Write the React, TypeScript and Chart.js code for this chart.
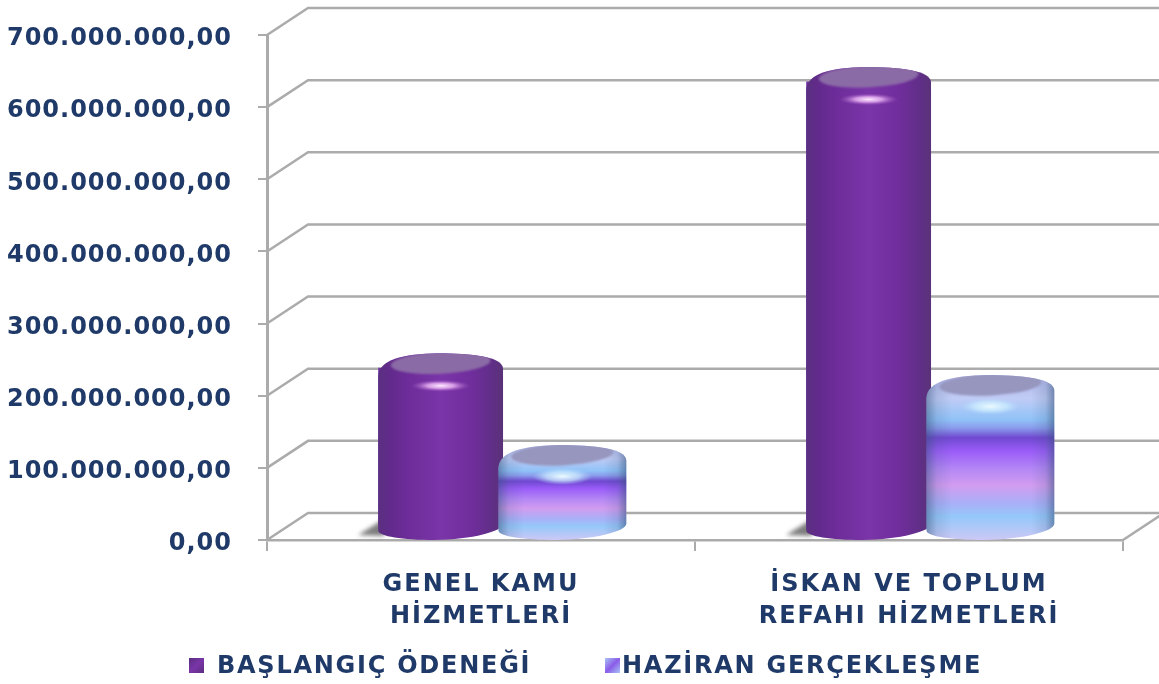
import React, { useEffect, useRef } from "react";
import { Chart, registerables } from "chart.js";

Chart.register(...registerables);

const categories = [["GENEL KAMU", "HİZMETLERİ"], ["İSKAN VE TOPLUM", "REFAHI HİZMETLERİ"]];
const seriesNames = ["BAŞLANGIÇ ÖDENEĞİ", "HAZİRAN GERÇEKLEŞME"];
const baslangic = [220000000, 617000000];
const haziran = [93000000, 190000000];
const yMax = 700000000;
const yStep = 100000000;

const TEXT = "#1F3A68";
const GRID = "#ABABAB";
const DX = 41;
const DY = 27;
const RY = 14;

const BLUE_STOPS: [number, string][] = [
  [0, "#B0B4E8"], [0.14, "#C0CCF5"], [0.27, "#90C2F8"], [0.32, "#8A9CEC"], [0.38, "#7048D0"], [0.46, "#9A5CF8"],
  [0.57, "#B487F5"], [0.67, "#D29CF0"], [0.78, "#A9B0F8"], [0.86, "#95C8FA"], [1, "#CBC8F5"],
];

function fmt(v: number) {
  const s = Math.round(v).toString().replace(/\B(?=(\d{3})+(?!\d))/g, ".");
  return s + ",00";
}

function outline(ctx: CanvasRenderingContext2D, cx: number, rx: number, yt: number, yb: number) {
  ctx.beginPath();
  ctx.moveTo(cx - rx, yt + 9);
  ctx.bezierCurveTo(cx - rx, yt - 8, cx - rx * 0.6, yt - RY, cx - rx * 0.05, yt - RY - 0.5);
  ctx.bezierCurveTo(cx + rx * 0.5, yt - RY - 0.5, cx + rx, yt - 11, cx + rx, yt + 1);
  ctx.lineTo(cx + rx, yb - 2);
  ctx.bezierCurveTo(cx + rx, yb + 6, cx + rx * 0.5, yb + RY, cx - rx * 0.1, yb + RY + 0.5);
  ctx.bezierCurveTo(cx - rx * 0.6, yb + RY + 0.5, cx - rx, yb + 11, cx - rx, yb + 5);
  ctx.closePath();
}

function cylinder(ctx: CanvasRenderingContext2D, bar: any, kind: number) {
  const rx = bar.width / 2 + (kind === 1 ? 1.5 : 0);
  const cx = bar.x + DX / 2;
  const yt = bar.y - DY / 2;
  const yb = bar.base - DY / 2;
  const w = rx * 2;
  ctx.save();
  outline(ctx, cx, rx, yt, yb);
  ctx.clip();
  if (kind === 0) {
    const g = ctx.createLinearGradient(cx - rx, 0, cx + rx, 0);
    g.addColorStop(0, "#5A3080");
    g.addColorStop(0.1, "#622A8C");
    g.addColorStop(0.22, "#6C2C98");
    g.addColorStop(0.5, "#7A35A8");
    g.addColorStop(0.75, "#702D9C");
    g.addColorStop(0.92, "#5F2F86");
    g.addColorStop(1, "#5A3278");
    ctx.fillStyle = g;
    ctx.fillRect(cx - rx - 4, yt - RY - 6, w + 8, yb - yt + 2 * RY + 12);
  } else {
    const top = yt - RY;
    const bot = yb + RY;
    const v = ctx.createLinearGradient(0, top, 0, bot);
    BLUE_STOPS.forEach(([p, c]) => v.addColorStop(p, c));
    ctx.fillStyle = v;
    ctx.fillRect(cx - rx - 4, top - 6, w + 8, bot - top + 12);
    const h = ctx.createLinearGradient(cx - rx, 0, cx + rx, 0);
    h.addColorStop(0, "rgba(50,80,120,0.5)");
    h.addColorStop(0.08, "rgba(50,80,120,0.14)");
    h.addColorStop(0.2, "rgba(50,80,120,0)");
    h.addColorStop(0.82, "rgba(50,80,120,0)");
    h.addColorStop(0.93, "rgba(50,80,120,0.15)");
    h.addColorStop(1, "rgba(50,80,120,0.55)");
    ctx.fillStyle = h;
    ctx.fillRect(cx - rx - 4, top - 6, w + 8, bot - top + 12);
  }
  // top face
  ctx.save();
  ctx.filter = "blur(1px)";
  ctx.fillStyle = kind === 0 ? "#8B6BA6" : "#9696BE";
  ctx.beginPath();
  ctx.ellipse(cx, yt - 5, rx * 0.8, 11, -0.05, 0, 2 * Math.PI);
  ctx.fill();
  ctx.restore();
  // highlight under the rim
  const hy = yt + (kind === 0 ? 18 : 17);
  ctx.save();
  ctx.translate(cx, hy);
  ctx.scale(1, kind === 0 ? 0.2 : 0.28);
  const r = ctx.createRadialGradient(0, 0, 0, 0, 0, 30);
  if (kind === 0) {
    r.addColorStop(0, "rgba(255,235,255,1)");
    r.addColorStop(0.45, "rgba(235,180,245,0.8)");
    r.addColorStop(1, "rgba(160,80,190,0)");
  } else {
    r.addColorStop(0, "rgba(235,250,255,1)");
    r.addColorStop(0.55, "rgba(205,238,255,0.7)");
    r.addColorStop(1, "rgba(180,220,255,0)");
  }
  ctx.fillStyle = r;
  ctx.beginPath();
  ctx.arc(0, 0, 30, 0, 2 * Math.PI);
  ctx.fill();
  ctx.restore();
  ctx.restore();
}

function spaced(chart: any, scale: any, px: string, dy: number) {
  if (scale.__spaced) return;
  scale.__spaced = true;
  const draw = scale.drawLabels;
  scale.drawLabels = function (area: any) {
    chart.ctx.save();
    chart.ctx.letterSpacing = px;
    chart.ctx.translate(0, dy);
    draw.call(this, area);
    chart.ctx.restore();
  };
}

const walls = {
  id: "walls",
  beforeDraw(chart: any) {
    spaced(chart, chart.scales.y, "1px", 4);
    spaced(chart, chart.scales.x, "2px", 0);
  },
  beforeDatasetsDraw(chart: any) {
    const { ctx, chartArea, scales } = chart;
    const { left, right, bottom } = chartArea;
    ctx.save();
    ctx.strokeStyle = GRID;
    ctx.lineWidth = 2.5;
    scales.y.ticks.forEach((_: any, i: number) => {
      const y = scales.y.getPixelForTick(i);
      ctx.beginPath();
      ctx.moveTo(left, y);
      ctx.lineTo(left + DX, y - DY);
      ctx.lineTo(chart.width + 2, y - DY);
      ctx.stroke();
    });
    ctx.beginPath();
    ctx.moveTo(right, bottom);
    ctx.lineTo(right + DX, bottom - DY);
    ctx.stroke();
    ctx.restore();
    // the library's flat bars sit in the middle of the floor's depth
    ctx.save();
    ctx.translate(DX / 2, -DY / 2);
  },
  afterDatasetsDraw(chart: any) {
    const { ctx } = chart;
    ctx.restore();
    // soft shadows on the floor
    chart.getDatasetMeta(0).data.forEach((bar: any) => {
      const x0 = bar.x + DX / 2 - bar.width / 2;
      const b = bar.base;
      ctx.save();
      ctx.filter = "blur(2px)";
      ctx.fillStyle = "rgba(70,70,70,0.7)";
      ctx.beginPath();
      ctx.moveTo(x0 - 20, b - 4);
      ctx.lineTo(x0 + 6, b - 20);
      ctx.lineTo(x0 + 6, b - 3);
      ctx.closePath();
      ctx.fill();
      ctx.restore();
    });
    [0, 1].forEach((d) => {
      chart.getDatasetMeta(d).data.forEach((bar: any) => cylinder(ctx, bar, d));
    });
  },
  afterDraw(chart: any) {
    const { ctx } = chart;
    const xs = [[189, 217], [605, 622]];
    ctx.save();
    ctx.font = "bold 24px 'DejaVu Sans'";
    ctx.letterSpacing = "1.75px";
    ctx.textBaseline = "middle";
    ctx.textAlign = "left";
    seriesNames.forEach((name, i) => {
      const [bx, tx] = xs[i];
      const g = ctx.createLinearGradient(bx, 658, bx + 15, 673);
      if (i === 0) {
        g.addColorStop(0, "#5A2F80");
        g.addColorStop(0.5, "#7A35A8");
        g.addColorStop(1, "#5A2F80");
      } else {
        g.addColorStop(0, "#A9C4F5");
        g.addColorStop(0.5, "#8A5CE8");
        g.addColorStop(1, "#A9C4F5");
      }
      ctx.fillStyle = g;
      ctx.fillRect(bx, 658, 15, 15);
      ctx.fillStyle = TEXT;
      ctx.fillText(name, tx, 667);
    });
    ctx.restore();
  },
};

export default function App() {
  const ref = useRef<HTMLCanvasElement>(null);
  useEffect(() => {
    const chart = new Chart(ref.current!, {
      type: "bar",
      data: {
        labels: categories as any,
        datasets: [
          { label: seriesNames[0], data: baslangic, backgroundColor: "#7030A0" },
          { label: seriesNames[1], data: haziran, backgroundColor: "#9A6CF0" },
        ],
      },
      options: {
        responsive: false,
        animation: false,
        layout: { autoPadding: false, padding: { top: 35, right: 36, left: 0, bottom: 0 } },
        plugins: { legend: { display: false }, tooltip: { enabled: false } },
        datasets: { bar: { categoryPercentage: 0.569, barPercentage: 1.025 } },
        scales: {
          x: {
            afterFit(s: any) { s.height = 144; },
            border: { color: GRID, width: 2.5 },
            grid: { color: GRID, lineWidth: 2, drawOnChartArea: false, tickLength: 11 },
            ticks: {
              color: TEXT,
              padding: 17,
              maxRotation: 0,
              autoSkip: false,
              font: { family: "'DejaVu Sans'", weight: "bold", size: 24, lineHeight: 1.36 },
            },
          },
          y: {
            min: 0,
            max: yMax,
            afterFit(s: any) { s.width = 267; s.paddingTop = 0; s.paddingBottom = 0; },
            border: { color: GRID, width: 3 },
            grid: { color: GRID, lineWidth: 2, drawOnChartArea: false, tickLength: 9 },
            ticks: {
              stepSize: yStep,
              color: TEXT,
              padding: 26,
              font: { family: "'DejaVu Sans'", weight: "bold", size: 24 },
              callback: (v: any) => fmt(Number(v)),
            },
          },
        },
      } as any,
      plugins: [walls],
    });
    return () => chart.destroy();
  }, []);
  return (
    <div style={{ position: "absolute", left: 0, top: 0, width: 1159, height: 684, background: "#fff" }}>
      <canvas ref={ref} width={1159} height={684} style={{ display: "block", filter: "blur(0.5px)" }} />
    </div>
  );
}
